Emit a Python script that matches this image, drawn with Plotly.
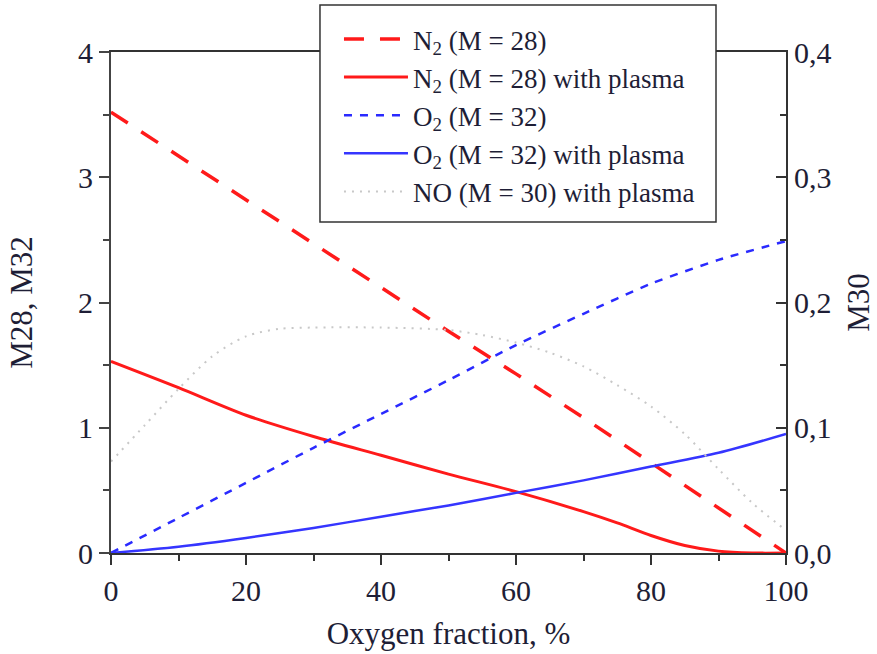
import plotly.graph_objects as go

# ---- data ----
x_n2 = [0, 10, 20, 30, 40, 50, 60, 70, 80, 90, 100]
n2 = [3.52, 3.17, 2.82, 2.47, 2.12, 1.77, 1.43, 1.08, 0.72, 0.36, 0.0]

x_n2p = [0, 10, 20, 30, 40, 50, 60, 70, 75, 80, 85, 90, 95, 100]
n2_plasma = [1.53, 1.32, 1.10, 0.93, 0.78, 0.63, 0.49, 0.33, 0.24, 0.14, 0.06, 0.015, 0.0, 0.0]

x_o2 = [0, 10, 20, 30, 40, 50, 60, 70, 80, 90, 100]
o2 = [0.0, 0.28, 0.56, 0.84, 1.11, 1.38, 1.66, 1.91, 2.15, 2.34, 2.49]

x_o2p = [0, 10, 20, 30, 40, 50, 60, 70, 80, 90, 100]
o2_plasma = [0.0, 0.05, 0.12, 0.20, 0.29, 0.38, 0.48, 0.58, 0.69, 0.80, 0.95]

x_no = [0, 5, 10, 15, 20, 25, 30, 40, 50, 55, 60, 65, 70, 75, 80, 85, 90, 95, 100]
no_plasma = [0.073, 0.102, 0.131, 0.157, 0.173, 0.179, 0.180, 0.180, 0.178, 0.174,
             0.168, 0.160, 0.149, 0.134, 0.117, 0.095, 0.067, 0.040, 0.018]

x_ticks = [0, 20, 40, 60, 80, 100]
y_ticks = [0, 1, 2, 3, 4]
y2_ticks = [0.0, 0.1, 0.2, 0.3, 0.4]

TXT = "#1e1e36"
FONT = "'Liberation Serif', 'Times New Roman', serif"

fig = go.Figure()
fig.add_trace(go.Scatter(x=x_n2, y=n2, mode="lines", name="N<sub>2</sub> (M = 28)",
                         line=dict(color="#ff1a1a", width=3.5, dash="20px,16px")))
fig.add_trace(go.Scatter(x=x_n2p, y=n2_plasma, mode="lines", name="N<sub>2</sub> (M = 28) with plasma",
                         line=dict(color="#ff1a1a", width=3, shape="spline", smoothing=0.8)))
fig.add_trace(go.Scatter(x=x_o2, y=o2, mode="lines", name="O<sub>2</sub> (M = 32)",
                         line=dict(color="#2a2aff", width=2.5, dash="8px,8px", shape="spline", smoothing=0.6)))
fig.add_trace(go.Scatter(x=x_o2p, y=o2_plasma, mode="lines", name="O<sub>2</sub> (M = 32) with plasma",
                         line=dict(color="#3535ff", width=2.5, shape="spline", smoothing=0.8)))
fig.add_trace(go.Scatter(x=x_no, y=no_plasma, mode="lines", name="NO (M = 30) with plasma", yaxis="y2",
                         line=dict(color="#c8c8c8", width=2, dash="2px,6px", shape="spline", smoothing=0.8)))

# legend frame (white box drawn above the plot, legend entries drawn on top of it)
fig.add_shape(type="rect", xref="paper", yref="paper",
              x0=0.3096, x1=0.8963, y0=0.6607, y1=1.0938,
              line=dict(color="#333333", width=1.5), fillcolor="white", layer="above")

fig.update_layout(
    width=877, height=654,
    margin=dict(l=111, r=91, t=52, b=101, autoexpand=False),
    paper_bgcolor="white", plot_bgcolor="white",
    separators=",.",
    font=dict(family=FONT, color=TXT, size=30),
    showlegend=True,
    legend=dict(x=0.3096, y=1.074, xanchor="left", yanchor="top",
                bgcolor="rgba(0,0,0,0)", borderwidth=0,
                font=dict(family=FONT, size=27, color=TXT),
                itemwidth=64, indentation=19, tracegroupgap=0),
    xaxis=dict(range=[0, 100], tickvals=x_ticks, ticks="outside", ticklen=10, tickwidth=2,
               tickcolor="#333333", showline=True, linecolor="#333333", linewidth=2, mirror=True,
               showgrid=False, zeroline=False, automargin=True,
               minor=dict(dtick=10, ticks="outside", ticklen=6, tickwidth=2, tickcolor="#333333", showgrid=False),
               title=dict(text="Oxygen fraction, %", font=dict(family=FONT, size=31), standoff=16),
               tickfont=dict(family=FONT, size=30)),
    yaxis=dict(range=[0, 4], tickvals=y_ticks, ticks="outside", ticklen=10, tickwidth=2,
               tickcolor="#444444", showline=True, linecolor="#444444", linewidth=2,
               showgrid=False, zeroline=False, automargin=True,
               minor=dict(dtick=0.5, ticks="outside", ticklen=6, tickwidth=2, tickcolor="#444444", showgrid=False),
               title=dict(text="M28, M32", font=dict(family=FONT, size=31), standoff=36),
               tickfont=dict(family=FONT, size=30)),
    yaxis2=dict(range=[0, 0.4], tickvals=y2_ticks, tickformat=".1f", overlaying="y", side="right",
                ticks="inside", ticklen=10, tickwidth=2, tickcolor="#333333",
                showline=True, linecolor="#333333", linewidth=2, showgrid=False, zeroline=False,
                automargin=True,
                minor=dict(dtick=0.05, ticks="inside", ticklen=6, tickwidth=2, tickcolor="#333333", showgrid=False),
                title=dict(text="M30", font=dict(family=FONT, size=31), standoff=17),
                tickfont=dict(family=FONT, size=30)),
)

fig.write_html("out.html")
